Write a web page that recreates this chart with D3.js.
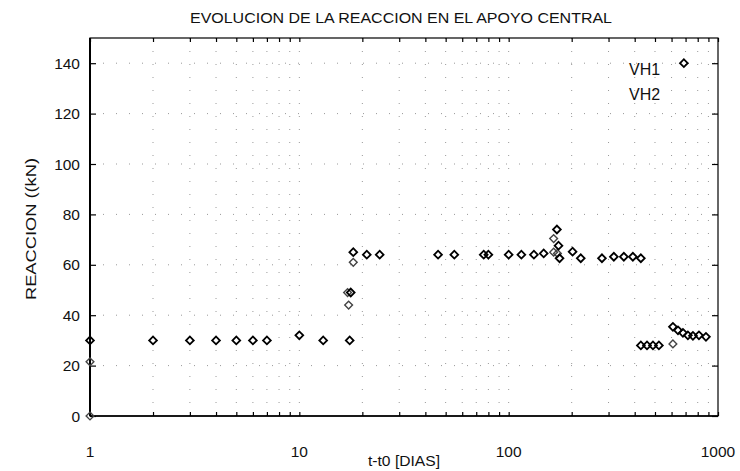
<!DOCTYPE html>
<html><head><meta charset="utf-8">
<script src="https://cdn.jsdelivr.net/npm/d3@7"></script>
<style>
body{margin:0;background:#fff;}
text{font-family:"Liberation Sans",Arial,sans-serif;fill:#111;}
</style></head>
<body><svg id="c" width="740" height="471"></svg>
<script>
// ---- data ----
const vh1Days = [1, 2, 3, 4, 5, 6, 7, 10, 13, 17.4, 17.6, 18.1, 21, 24.2, 46, 55, 76, 80, 100, 115, 132, 147, 170, 173, 175, 202, 221, 279, 318, 355, 392, 428, 428, 458, 489, 522, 609, 644, 680, 718, 759, 811, 876, 687];
const vh1Vals = [30, 30, 30, 30, 30, 30, 30, 32, 30, 30, 49, 65, 64, 64, 64, 64, 64, 64, 64, 64, 64, 64.5, 74, 67.6, 62.6, 65.2, 62.6, 62.6, 63.2, 63.2, 63.2, 62.6, 28, 28, 28, 28, 35.4, 34, 33, 32, 31.8, 32, 31.4, 140];
const vh2Days = [1, 1, 17, 17.2, 18.1, 164, 164, 171, 609];
const vh2Vals = [21.5, 0, 49, 44, 61, 70.4, 65, 64.5, 28.6];
const xTickVals = [1, 10, 100, 1000];
const xTickLabels = ["1", "10", "100", "1000"];
const yTickVals = [0, 20, 40, 60, 80, 100, 120, 140];
const seriesNames = ["VH1", "VH2"];

const svg = d3.select("#c");
const L = 90, R = 718, T = 38, B = 416;
const x = d3.scaleLog().domain([1, 1000]).range([L, R]);
const y = d3.scaleLinear().domain([0, 150]).range([B, T]);

// minor log positions
const minor = [];
for (let d = 1; d < 1000; d *= 10) for (let k = 1; k <= 9; k++) minor.push(d * k);
minor.push(1000);

// grid
const g = svg.append("g");
g.selectAll(".gx").data(minor.filter(v => v > 1 && v < 1000)).enter().append("line")
  .attr("x1", d => x(d)).attr("x2", d => x(d)).attr("y1", T).attr("y2", B)
  .attr("stroke", "#999").attr("stroke-width", 1).attr("stroke-dasharray", "1,12");
g.selectAll(".gy").data(yTickVals.filter(v => v > 0)).enter().append("line")
  .attr("x1", L).attr("x2", R).attr("y1", d => y(d)).attr("y2", d => y(d))
  .attr("stroke", "#999").attr("stroke-width", 1).attr("stroke-dasharray", "1,12");

// axes (inner ticks)
const ax = svg.append("g");
ax.append("g").attr("transform", `translate(0,${B})`)
  .call(d3.axisTop(x).tickValues(minor).tickSize(4).tickFormat(""))
  .call(s => s.select(".domain").remove());
ax.append("g").attr("transform", `translate(0,${T})`)
  .call(d3.axisBottom(x).tickValues(minor).tickSize(4).tickFormat(""))
  .call(s => s.select(".domain").remove());
ax.append("g").attr("transform", `translate(${L},0)`)
  .call(d3.axisRight(y).tickValues(yTickVals).tickSize(6).tickFormat(""))
  .call(s => s.select(".domain").remove());
ax.append("g").attr("transform", `translate(${R},0)`)
  .call(d3.axisLeft(y).tickValues(yTickVals).tickSize(6).tickFormat(""))
  .call(s => s.select(".domain").remove());
ax.selectAll(".tick line").attr("stroke", "#000").attr("stroke-width", 1.2);

// frame
svg.append("rect").attr("x", L).attr("y", T).attr("width", R - L).attr("height", B - T)
  .attr("fill", "none").attr("stroke", "#000").attr("stroke-width", 1.2);
svg.append("line").attr("x1", L).attr("x2", L).attr("y1", T).attr("y2", B)
  .attr("stroke", "#000").attr("stroke-width", 2);
svg.append("line").attr("x1", L).attr("x2", R).attr("y1", B).attr("y2", B)
  .attr("stroke", "#000").attr("stroke-width", 1.6);

// tick labels
svg.selectAll(".xl").data(xTickVals).enter().append("text")
  .attr("x", d => x(d)).attr("y", B + 41).attr("text-anchor", "middle")
  .attr("font-size", 15.5).text((d, i) => xTickLabels[i]);
svg.selectAll(".yl").data(yTickVals).enter().append("text")
  .attr("x", L - 10).attr("y", d => y(d) + 5.5).attr("text-anchor", "end")
  .attr("font-size", 15.5).text(d => d);

// titles
svg.append("text").attr("x", 401).attr("y", 23).attr("text-anchor", "middle")
  .attr("font-size", 15).attr("textLength", 422).attr("lengthAdjust", "spacingAndGlyphs")
  .text("EVOLUCION DE LA REACCION EN EL APOYO CENTRAL");
svg.append("text").attr("x", 404).attr("y", 466).attr("text-anchor", "middle")
  .attr("font-size", 14).attr("textLength", 72).attr("lengthAdjust", "spacingAndGlyphs")
  .text("t-t0 [DIAS]");
svg.append("text").attr("transform", "translate(36,229) rotate(-90)").attr("text-anchor", "middle")
  .attr("font-size", 15.5).attr("textLength", 142).attr("lengthAdjust", "spacingAndGlyphs")
  .text("REACCION ((kN)");

// markers (diamonds)
const sym = d3.symbol().type(d3.symbolSquare).size(30);
const pts1 = vh1Days.map((d, i) => [d, vh1Vals[i]]);
const pts2 = vh2Days.map((d, i) => [d, vh2Vals[i]]);
svg.append("g").selectAll("path").data(pts2).enter().append("path")
  .attr("d", sym).attr("transform", d => `translate(${x(d[0])},${y(d[1])}) rotate(45)`)
  .attr("fill", "none").attr("stroke", "#444").attr("stroke-width", 1.4);
svg.append("g").selectAll("path").data(pts1).enter().append("path")
  .attr("d", sym).attr("transform", d => `translate(${x(d[0])},${y(d[1])}) rotate(45)`)
  .attr("fill", "none").attr("stroke", "#000").attr("stroke-width", 1.8);

// legend (text only)
svg.selectAll(".lg").data(seriesNames).enter().append("text")
  .attr("x", 629).attr("y", (d, i) => 75 + i * 25)
  .attr("font-size", 16).text(d => d);
</script></body></html>
